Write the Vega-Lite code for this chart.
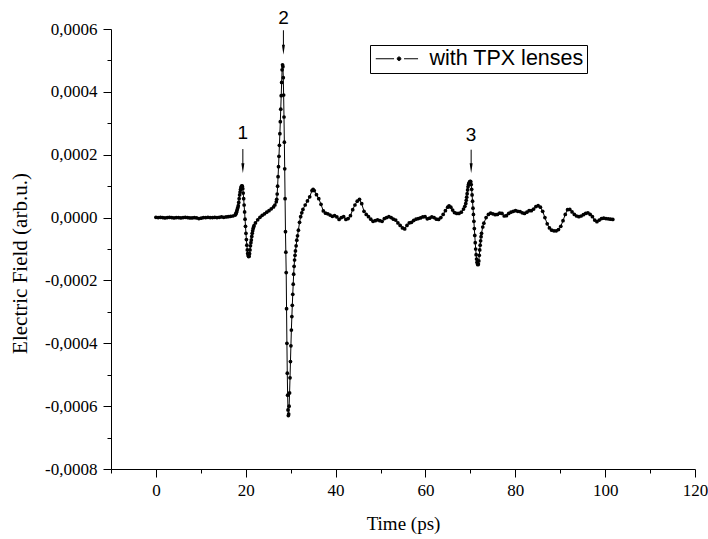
{
"$schema": "https://vega.github.io/schema/vega-lite/v6.json",
"width": 584, "height": 440,
"autosize": {"type": "none"},
"padding": {"left": 111, "top": 29, "right": 13, "bottom": 70},
"background": "white",
"config": {"view": {"stroke": null}},
"resolve": {"axis": {"x": "independent", "y": "independent"}},
"datasets": {
"wave": [
{"t":0,"E":0.01e-4},{"t":0.5,"E":0},{"t":1.01,"E":0.01e-4},{"t":1.51,"E":0},{"t":2.01,"E":-0.01e-4},{"t":2.52,"E":0},{"t":3.02,"E":0.01e-4},{"t":3.52,"E":0},{"t":4.03,"E":-0.01e-4},{"t":4.53,"E":0},{"t":5.03,"E":0},{"t":5.54,"E":-0.01e-4},{"t":6.04,"E":0},{"t":6.54,"E":0.01e-4},{"t":7.05,"E":0},{"t":7.55,"E":-0.01e-4},{"t":8.06,"E":-0.01e-4},{"t":8.56,"E":0},{"t":9.06,"E":-0.01e-4},{"t":9.57,"E":-0.03e-4},{"t":10.07,"E":-0.02e-4},{"t":10.57,"E":0},{"t":11.08,"E":0},{"t":11.58,"E":0.01e-4},{"t":12.08,"E":0},{"t":12.59,"E":0},{"t":13.09,"E":0.01e-4},{"t":13.59,"E":0},{"t":14.1,"E":0.01e-4},{"t":14.6,"E":0.02e-4},{"t":15.1,"E":0.01e-4},{"t":15.61,"E":0.02e-4},{"t":16.11,"E":0.03e-4},{"t":16.61,"E":0.04e-4},{"t":17.12,"E":0.05e-4},{"t":17.62,"E":0.08e-4},
{"t":17.73,"E":0.1e-4},{"t":17.83,"E":0.13e-4},{"t":17.93,"E":0.17e-4},{"t":18.03,"E":0.22e-4},{"t":18.13,"E":0.27e-4},{"t":18.23,"E":0.32e-4},{"t":18.33,"E":0.38e-4},{"t":18.43,"E":0.48e-4},{"t":18.53,"E":0.6e-4},{"t":18.63,"E":0.72e-4},{"t":18.73,"E":0.81e-4},{"t":18.83,"E":0.89e-4},{"t":18.93,"E":0.95e-4},{"t":19.03,"E":0.99e-4},{"t":19.13,"E":1.01e-4},{"t":19.23,"E":1.0e-4},{"t":19.33,"E":0.92e-4},{"t":19.43,"E":0.78e-4},{"t":19.53,"E":0.6e-4},{"t":19.63,"E":0.4e-4},{"t":19.74,"E":0.18e-4},{"t":19.84,"E":-0.05e-4},{"t":19.94,"E":-0.28e-4},{"t":20.04,"E":-0.5e-4},{"t":20.14,"E":-0.7e-4},{"t":20.24,"E":-0.88e-4},{"t":20.34,"E":-1.03e-4},{"t":20.44,"E":-1.14e-4},{"t":20.54,"E":-1.21e-4},{"t":20.64,"E":-1.24e-4},{"t":20.74,"E":-1.23e-4},{"t":20.84,"E":-1.15e-4},{"t":20.94,"E":-1.03e-4},{"t":21.04,"E":-0.9e-4},{"t":21.14,"E":-0.8e-4},{"t":21.24,"E":-0.71e-4},{"t":21.34,"E":-0.6e-4},{"t":21.44,"E":-0.5e-4},{"t":21.54,"E":-0.42e-4},{"t":21.64,"E":-0.35e-4},{"t":21.74,"E":-0.3e-4},{"t":21.84,"E":-0.26e-4},
{"t":22.15,"E":-0.17e-4},{"t":22.66,"E":-0.07e-4},{"t":23.16,"E":0.01e-4},{"t":23.66,"E":0.07e-4},{"t":24.17,"E":0.12e-4},{"t":24.67,"E":0.17e-4},{"t":25.17,"E":0.22e-4},{"t":25.68,"E":0.28e-4},{"t":26.18,"E":0.34e-4},{"t":26.48,"E":0.4e-4},
{"t":26.79,"E":0.5e-4},{"t":26.89,"E":0.58e-4},{"t":26.99,"E":0.75e-4},{"t":27.09,"E":1.0e-4},{"t":27.19,"E":1.3e-4},{"t":27.29,"E":1.62e-4},{"t":27.39,"E":1.95e-4},{"t":27.49,"E":2.3e-4},{"t":27.59,"E":2.67e-4},{"t":27.69,"E":3.05e-4},{"t":27.79,"E":3.45e-4},{"t":27.89,"E":3.88e-4},{"t":27.99,"E":4.3e-4},{"t":28.09,"E":4.7e-4},{"t":28.19,"E":4.86e-4},{"t":28.27,"E":4.8e-4},{"t":28.35,"E":4.45e-4},{"t":28.43,"E":3.9e-4},{"t":28.51,"E":3.2e-4},{"t":28.59,"E":2.4e-4},{"t":28.67,"E":1.55e-4},{"t":28.75,"E":0.6e-4},{"t":28.84,"E":-0.45e-4},{"t":28.92,"E":-1.1e-4},{"t":29.0,"E":-1.75e-4},{"t":29.08,"E":-2.9e-4},{"t":29.16,"E":-4.0e-4},{"t":29.24,"E":-4.95e-4},{"t":29.32,"E":-5.65e-4},{"t":29.4,"E":-6.12e-4},{"t":29.48,"E":-6.3e-4},{"t":29.56,"E":-6.25e-4},{"t":29.65,"E":-6.0e-4},{"t":29.75,"E":-5.58e-4},{"t":29.85,"E":-5.1e-4},{"t":29.95,"E":-4.58e-4},{"t":30.05,"E":-4.08e-4},{"t":30.15,"E":-3.58e-4},{"t":30.26,"E":-3.15e-4},{"t":30.36,"E":-2.79e-4},{"t":30.46,"E":-2.44e-4},{"t":30.56,"E":-2.12e-4},{"t":30.66,"E":-1.8e-4},{"t":30.76,"E":-1.55e-4},{"t":30.86,"E":-1.35e-4},{"t":30.96,"E":-1.2e-4},{"t":31.06,"E":-1.06e-4},{"t":31.21,"E":-0.9e-4},{"t":31.36,"E":-0.72e-4},{"t":31.52,"E":-0.58e-4},{"t":31.72,"E":-0.4e-4},{"t":31.97,"E":-0.15e-4},{"t":32.22,"E":0.03e-4},{"t":32.47,"E":0.15e-4},{"t":32.72,"E":0.26e-4},{"t":33.23,"E":0.4e-4},{"t":33.73,"E":0.53e-4},{"t":34.23,"E":0.66e-4},{"t":34.74,"E":0.86e-4},{"t":34.99,"E":0.9e-4},{"t":35.24,"E":0.86e-4},{"t":35.74,"E":0.73e-4},{"t":36.25,"E":0.6e-4},{"t":36.75,"E":0.42e-4},{"t":37.26,"E":0.21e-4},{"t":37.76,"E":0.14e-4},{"t":38.26,"E":0.12e-4},{"t":38.77,"E":0.08e-4},{"t":39.27,"E":0.04e-4},{"t":39.77,"E":0.06e-4},{"t":40.28,"E":0.02e-4},{"t":40.78,"E":-0.06e-4},{"t":41.28,"E":0},{"t":41.79,"E":0.03e-4},{"t":42.29,"E":-0.06e-4},{"t":42.79,"E":-0.03e-4},{"t":43.3,"E":0.06e-4},{"t":43.8,"E":0.25e-4},{"t":44.3,"E":0.4e-4},{"t":44.81,"E":0.52e-4},{"t":45.31,"E":0.58e-4},{"t":45.81,"E":0.44e-4},{"t":46.32,"E":0.2e-4},{"t":46.82,"E":0.1e-4},{"t":47.32,"E":0.03e-4},{"t":47.83,"E":-0.05e-4},{"t":48.33,"E":-0.12e-4},{"t":48.83,"E":-0.1e-4},{"t":49.34,"E":-0.07e-4},{"t":49.84,"E":-0.1e-4},{"t":50.35,"E":-0.12e-4},{"t":50.85,"E":-0.03e-4},{"t":51.35,"E":0},{"t":51.86,"E":0.03e-4},{"t":52.36,"E":0},{"t":52.86,"E":-0.05e-4},{"t":53.37,"E":-0.08e-4},{"t":53.87,"E":-0.17e-4},{"t":54.37,"E":-0.25e-4},{"t":54.88,"E":-0.33e-4},{"t":55.38,"E":-0.36e-4},{"t":55.88,"E":-0.25e-4},{"t":56.39,"E":-0.17e-4},{"t":56.89,"E":-0.15e-4},{"t":57.39,"E":-0.09e-4},{"t":57.9,"E":-0.05e-4},{"t":58.4,"E":-0.03e-4},{"t":58.9,"E":-0.01e-4},{"t":59.41,"E":0.02e-4},{"t":59.91,"E":0.03e-4},{"t":60.41,"E":-0.04e-4},{"t":60.92,"E":-0.02e-4},{"t":61.42,"E":0.02e-4},{"t":61.92,"E":0},{"t":62.43,"E":-0.05e-4},{"t":62.93,"E":-0.06e-4},{"t":63.43,"E":0},{"t":63.94,"E":0.1e-4},{"t":64.44,"E":0.22e-4},{"t":64.95,"E":0.33e-4},{"t":65.25,"E":0.37e-4},{"t":65.65,"E":0.33e-4},{"t":66.05,"E":0.24e-4},{"t":66.46,"E":0.16e-4},{"t":66.96,"E":0.13e-4},{"t":67.46,"E":0.13e-4},{"t":67.97,"E":0.17e-4},{"t":68.47,"E":0.27e-4},{"t":68.77,"E":0.36e-4},{"t":68.97,"E":0.45e-4},
{"t":69.08,"E":0.55e-4},{"t":69.18,"E":0.65e-4},{"t":69.28,"E":0.76e-4},{"t":69.38,"E":0.88e-4},{"t":69.48,"E":0.98e-4},{"t":69.58,"E":1.05e-4},{"t":69.68,"E":1.09e-4},{"t":69.78,"E":1.12e-4},{"t":69.88,"E":1.14e-4},{"t":69.98,"E":1.15e-4},{"t":70.08,"E":1.14e-4},{"t":70.18,"E":1.05e-4},{"t":70.28,"E":0.9e-4},{"t":70.38,"E":0.72e-4},{"t":70.48,"E":0.52e-4},{"t":70.58,"E":0.3e-4},{"t":70.68,"E":0.1e-4},{"t":70.78,"E":-0.12e-4},{"t":70.88,"E":-0.35e-4},{"t":70.98,"E":-0.57e-4},{"t":71.08,"E":-0.8e-4},{"t":71.18,"E":-1.0e-4},{"t":71.28,"E":-1.18e-4},{"t":71.38,"E":-1.32e-4},{"t":71.48,"E":-1.42e-4},{"t":71.58,"E":-1.48e-4},{"t":71.68,"E":-1.5e-4},{"t":71.78,"E":-1.48e-4},{"t":71.88,"E":-1.38e-4},{"t":71.98,"E":-1.2e-4},{"t":72.08,"E":-1.03e-4},{"t":72.18,"E":-0.88e-4},{"t":72.28,"E":-0.74e-4},{"t":72.38,"E":-0.61e-4},{"t":72.48,"E":-0.5e-4},{"t":72.75,"E":-0.3e-4},{"t":73.0,"E":-0.18e-4},
{"t":73.5,"E":0},{"t":74.01,"E":0.1e-4},{"t":74.51,"E":0.14e-4},{"t":75.01,"E":0.12e-4},{"t":75.52,"E":0.09e-4},{"t":76.02,"E":0.1e-4},{"t":76.52,"E":0.14e-4},{"t":77.03,"E":0.13e-4},{"t":77.53,"E":0.05e-4},{"t":78.03,"E":0.06e-4},{"t":78.54,"E":0.13e-4},{"t":79.04,"E":0.17e-4},{"t":79.55,"E":0.2e-4},{"t":80.05,"E":0.22e-4},{"t":80.55,"E":0.2e-4},{"t":81.06,"E":0.19e-4},{"t":81.56,"E":0.15e-4},{"t":82.06,"E":0.13e-4},{"t":82.57,"E":0.17e-4},{"t":83.07,"E":0.22e-4},{"t":83.57,"E":0.22e-4},{"t":84.08,"E":0.27e-4},{"t":84.58,"E":0.35e-4},{"t":85.08,"E":0.38e-4},{"t":85.59,"E":0.33e-4},{"t":86.09,"E":0.2e-4},{"t":86.59,"E":0},{"t":87.1,"E":-0.2e-4},{"t":87.6,"E":-0.33e-4},{"t":88.1,"E":-0.4e-4},{"t":88.61,"E":-0.42e-4},{"t":89.11,"E":-0.42e-4},{"t":89.61,"E":-0.38e-4},{"t":90.12,"E":-0.28e-4},{"t":90.62,"E":-0.1e-4},{"t":91.12,"E":0.1e-4},{"t":91.63,"E":0.25e-4},{"t":92.13,"E":0.26e-4},{"t":92.63,"E":0.18e-4},{"t":93.14,"E":0.1e-4},{"t":93.64,"E":0.05e-4},{"t":94.15,"E":0.03e-4},{"t":94.65,"E":0.05e-4},{"t":95.15,"E":0.09e-4},{"t":95.66,"E":0.13e-4},{"t":96.16,"E":0.15e-4},{"t":96.66,"E":0.1e-4},{"t":97.17,"E":0.03e-4},{"t":97.67,"E":-0.08e-4},{"t":98.17,"E":-0.13e-4},{"t":98.68,"E":-0.08e-4},{"t":99.18,"E":-0.03e-4},{"t":99.68,"E":-0.02e-4},{"t":100.19,"E":-0.03e-4},{"t":100.69,"E":-0.04e-4},{"t":101.19,"E":-0.05e-4},{"t":101.7,"E":-0.06e-4}
],
"arrows": [
{"t":19.35,"top":2.18e-4,"bot":1.66e-4,"head":1.57e-4,"ly":2.70e-4,"label":"1"},
{"t":28.38,"top":5.96e-4,"bot":5.44e-4,"head":5.34e-4,"ly":6.34e-4,"label":"2"},
{"t":70.17,"top":2.16e-4,"bot":1.66e-4,"head":1.57e-4,"ly":2.63e-4,"label":"3"}
]
},
"layer": [
{
"data": {"name": "wave"},
"mark": {"type": "line", "color": "black", "strokeWidth": 1},
"encoding": {
"x": {"field": "t", "type": "quantitative",
"scale": {"domain": [-10, 120], "nice": false, "zero": false},
"axis": {"title": "Time (ps)", "orient": "bottom", "grid": false,
"values": [0,20,40,60,80,100,120], "tickSize": 8,
"domainColor": "black", "tickColor": "black", "labelColor": "black", "titleColor": "black",
"labelFont": "Liberation Serif", "labelFontSize": 17, "labelPadding": 5, "labelFlush": false, "labelOverlap": false,
"titleFont": "Liberation Serif", "titleFontSize": 19, "titleFontWeight": "normal",
"titleY": 54, "titleBaseline": "middle"}},
"y": {"field": "E", "type": "quantitative",
"scale": {"domain": [-0.0008, 0.0006], "nice": false, "zero": false},
"axis": {"title": "Electric Field (arb.u.)", "orient": "left", "grid": false,
"values": [-0.0008,-0.0006,-0.0004,-0.0002,0,0.0002,0.0004,0.0006], "tickSize": 8,
"labelExpr": "(datum.value < -1e-9 ? '-' : '') + replace(format(abs(datum.value), '.4f'), '.', ',')",
"domainColor": "black", "tickColor": "black", "labelColor": "black", "titleColor": "black",
"labelFont": "Liberation Serif", "labelFontSize": 17, "labelPadding": 6, "labelFlush": false, "labelOverlap": false,
"titleFont": "Liberation Serif", "titleFontSize": 21, "titleFontWeight": "normal",
"titleX": -91, "titleY": 234, "titleBaseline": "middle", "titleAlign": "center"}}
}
},
{
"data": {"name": "wave"},
"mark": {"type": "point", "filled": true, "size": 14, "opacity": 1},
"encoding": {
"x": {"field": "t", "type": "quantitative",
"axis": {"orient": "bottom", "title": null, "labels": false, "domain": false, "grid": false,
"values": [-10,10,30,50,70,90,110], "tickSize": 4, "tickColor": "black"}},
"y": {"field": "E", "type": "quantitative",
"axis": {"orient": "left", "title": null, "labels": false, "domain": false, "grid": false,
"values": [-0.0007,-0.0005,-0.0003,-0.0001,0.0001,0.0003,0.0005], "tickSize": 4, "tickColor": "black"}},
"color": {"datum": "with TPX lenses", "scale": {"range": ["black"]},
"legend": {"title": null, "orient": "none", "legendX": 259, "legendY": 16,
"strokeColor": "black", "fillColor": "white", "padding": 3, "cornerRadius": 0,
"symbolType": "M-0.8,0L1.03,0M2.03,0L3.43,0M1.35,0A0.18,0.18 0 1,1 1.71,0A0.18,0.18 0 1,1 1.35,0Z",
"symbolSize": 400, "symbolStrokeWidth": 1, "symbolStrokeColor": "black", "symbolFillColor": "black",
"labelFont": "Liberation Sans", "labelFontSize": 21.5, "labelColor": "black", "labelOffset": 35, "labelLimit": 0}}
}
},
{
"data": {"name": "arrows"},
"mark": {"type": "rule", "color": "black", "strokeWidth": 1},
"encoding": {
"x": {"field": "t", "type": "quantitative", "axis": null},
"y": {"field": "top", "type": "quantitative", "axis": null},
"y2": {"field": "bot"}
}
},
{
"data": {"name": "arrows"},
"mark": {"type": "point", "shape": "M-0.3,-1L0.3,-1L0,1Z", "filled": true, "size": 100, "color": "black", "opacity": 1},
"encoding": {
"x": {"field": "t", "type": "quantitative", "axis": null},
"y": {"field": "head", "type": "quantitative", "axis": null}
}
},
{
"data": {"name": "arrows"},
"mark": {"type": "text", "font": "Liberation Sans", "fontSize": 19, "color": "black", "baseline": "middle", "align": "center"},
"encoding": {
"x": {"field": "t", "type": "quantitative", "axis": null},
"y": {"field": "ly", "type": "quantitative", "axis": null},
"text": {"field": "label"}
}
}
]
}
